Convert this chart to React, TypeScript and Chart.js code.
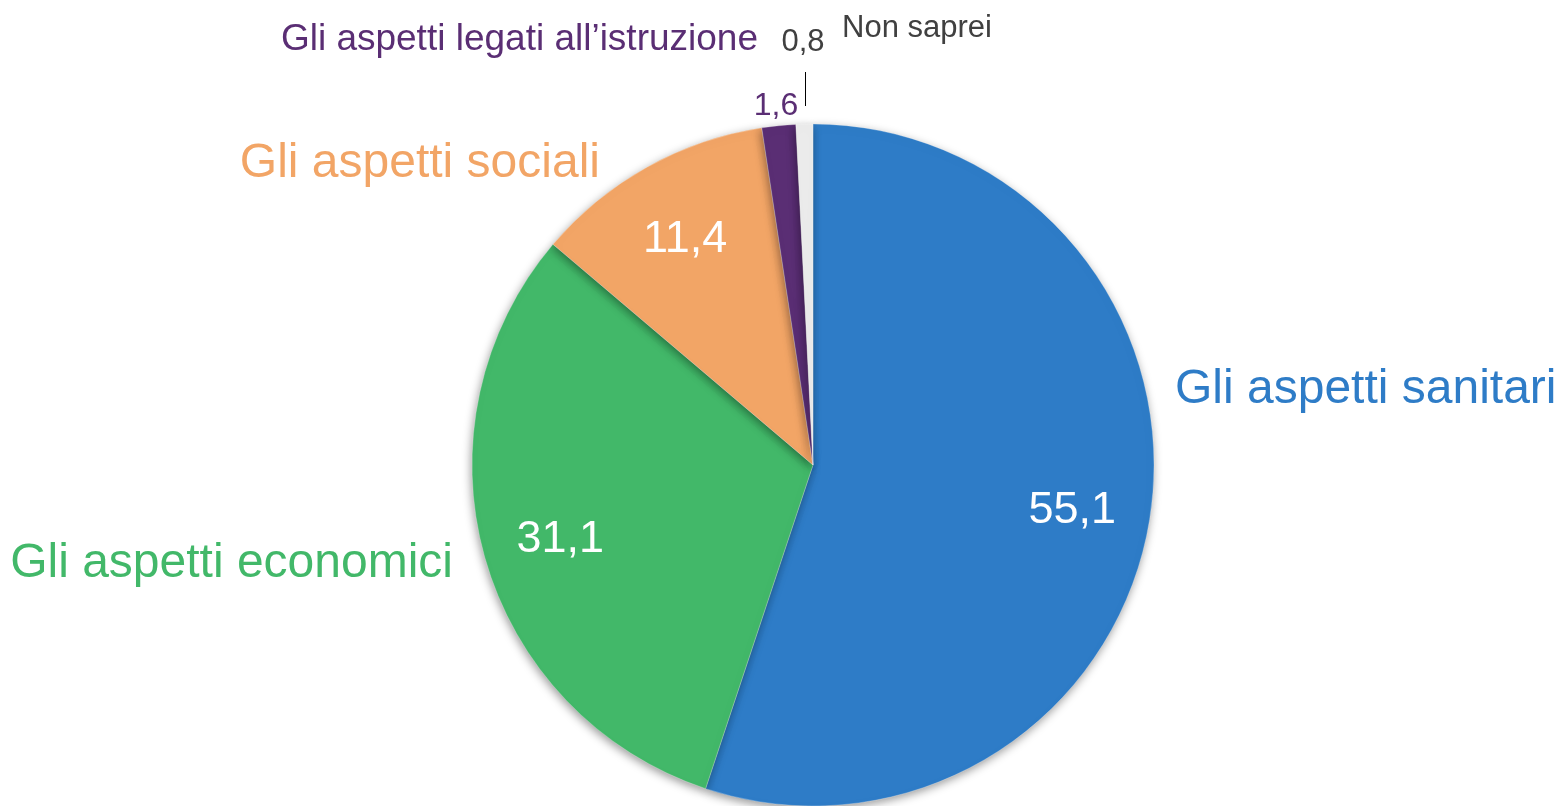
import React, { useEffect, useRef } from "react";
import { Chart, registerables } from "chart.js";

Chart.register(...registerables);

const categories = [
  "Gli aspetti sanitari",
  "Gli aspetti economici",
  "Gli aspetti sociali",
  "Gli aspetti legati all’istruzione",
  "Non saprei",
];
const values = [55.1, 31.1, 11.4, 1.6, 0.8];
const valueLabels = ["55,1", "31,1", "11,4", "1,6", "0,8"];
const sliceColors = ["#2E7CC7", "#42B869", "#F2A566", "#5A2E74", "#ECECEC"];
const textColors = ["#2E7CC7", "#42B869", "#F2A566", "#5A2E74", "#404040"];

const FONT = "'Liberation Sans', Arial, Helvetica, sans-serif";

// label layout (relative to pie centre, pixels)
const categoryLayout = [
  { dx: 362, dy: -62, align: "left", size: 48 },
  { dx: -360, dy: 112, align: "right", size: 48 },
  { dx: -213, dy: -288, align: "right", size: 48 },
  { dx: -55, dy: -415, align: "right", size: 37 },
  { dx: 29, dy: -428, align: "left", size: 31 },
];
const valueLayout = [
  { inside: true, size: 45 },
  { inside: true, size: 45 },
  { inside: true, size: 45 },
  { inside: false, dx: -37, dy: -350, size: 32 },
  { inside: false, dx: -10, dy: -414, size: 31 },
];

const shadowPlugin = {
  id: "sliceShadow",
  beforeDatasetDraw(chart: any) {
    const ctx = chart.ctx;
    ctx.save();
    ctx.shadowColor = "rgba(0,0,0,0.4)";
    ctx.shadowBlur = 10;
    ctx.shadowOffsetX = -1;
    ctx.shadowOffsetY = 3;
  },
  afterDatasetDraw(chart: any) {
    chart.ctx.restore();
  },
};

const labelPlugin = {
  id: "pieLabels",
  afterDatasetsDraw(chart: any) {
    const ctx = chart.ctx;
    const meta = chart.getDatasetMeta(0);
    ctx.save();
    meta.data.forEach((arc: any, i: number) => {
      const p = arc.getProps(["x", "y", "startAngle", "endAngle", "outerRadius"], true);
      const cx = p.x;
      const cy = p.y;
      const cl = categoryLayout[i];
      ctx.font = `${cl.size}px ${FONT}`;
      ctx.fillStyle = textColors[i];
      ctx.textAlign = cl.align;
      ctx.textBaseline = "alphabetic";
      ctx.fillText(categories[i], cx + cl.dx, cy + cl.dy);
      const vl: any = valueLayout[i];
      ctx.font = `${vl.size}px ${FONT}`;
      ctx.textAlign = "center";
      if (vl.inside) {
        const mid = (p.startAngle + p.endAngle) / 2;
        const rr = p.outerRadius * 0.77;
        ctx.fillStyle = "#FFFFFF";
        ctx.textBaseline = "middle";
        ctx.fillText(valueLabels[i], cx + Math.cos(mid) * rr, cy + Math.sin(mid) * rr + 4);
      } else {
        ctx.fillStyle = textColors[i];
        ctx.textBaseline = "alphabetic";
        ctx.fillText(valueLabels[i], cx + vl.dx, cy + vl.dy);
      }
    });
    const last = meta.data[meta.data.length - 1];
    const lp = last.getProps(["x", "y", "outerRadius"], true);
    ctx.strokeStyle = "#000000";
    ctx.lineWidth = 1;
    ctx.beginPath();
    ctx.moveTo(lp.x - 8 + 0.5, lp.y - lp.outerRadius - 18);
    ctx.lineTo(lp.x - 8 + 0.5, lp.y - lp.outerRadius - 52);
    ctx.stroke();
    ctx.restore();
  },
};

export default function App() {
  const ref = useRef<HTMLCanvasElement | null>(null);
  useEffect(() => {
    document.body.style.margin = "0";
    const canvas = ref.current;
    if (!canvas) return;
    const chart = new Chart(canvas, {
      type: "pie",
      data: {
        labels: categories,
        datasets: [
          {
            data: values,
            backgroundColor: sliceColors,
            borderColor: "rgba(255,255,255,0.5)",
            borderWidth: 0.5,
          },
        ],
      },
      options: {
        responsive: false,
        maintainAspectRatio: false,
        animation: false,
        events: [],
        radius: 341,
        layout: { padding: { left: 472, right: 407, top: 124, bottom: 0 } },
        plugins: {
          legend: { display: false },
          tooltip: { enabled: false },
        },
      } as any,
      plugins: [shadowPlugin, labelPlugin],
    });
    return () => chart.destroy();
  }, []);
  return (
    <div style={{ position: "absolute", left: 0, top: 0, width: 1561, height: 806, background: "#FFFFFF" }}>
      <canvas ref={ref} width={1561} height={806} style={{ display: "block", width: 1561, height: 806 }} />
    </div>
  );
}
